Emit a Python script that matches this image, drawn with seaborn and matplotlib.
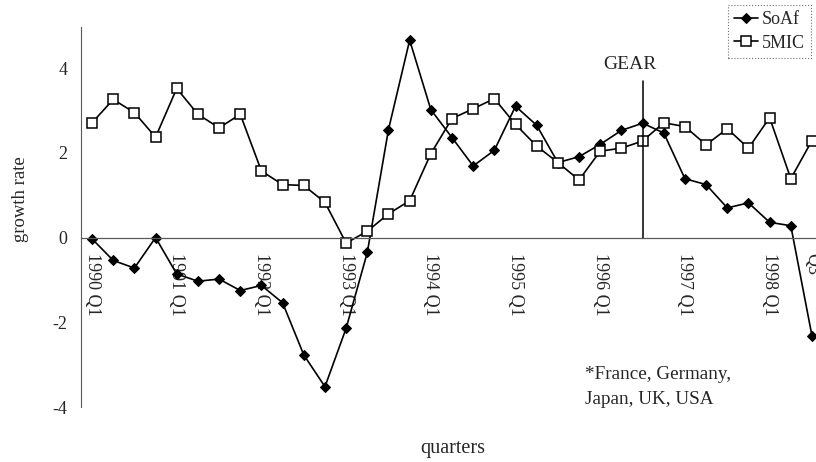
import numpy as np
import pandas as pd
import matplotlib
matplotlib.use("Agg")
import matplotlib.pyplot as plt
import seaborn as sns
from matplotlib.ticker import FixedLocator

# trimestres 1990 Q1 .. 1998 Q3
quarters = [f"{y} Q{q}" for y in range(1990, 1999) for q in range(1, 5)][:35]

soaf = [-0.03, -0.54, -0.72, 0.00, -0.86, -1.03, -0.98, -1.25,
        -1.13, -1.54, -2.77, -3.52, -2.14, -0.35, 2.55, 4.66,
        3.02, 2.36, 1.69, 2.06, 3.10, 2.65, 1.77, 1.91,
        2.20, 2.53, 2.70, 2.47, 1.39, 1.25, 0.70, 0.82,
        0.36, 0.28, -2.32]

mic5 = [2.71, 3.26, 2.95, 2.37, 3.52, 2.91, 2.59, 2.91,
        1.57, 1.25, 1.23, 0.83, -0.13, 0.15, 0.56, 0.87,
        1.98, 2.81, 3.04, 3.28, 2.67, 2.16, 1.77, 1.36,
        2.04, 2.11, 2.28, 2.71, 2.62, 2.19, 2.57, 2.11,
        2.83, 1.39, 2.29]

tick_pos = [0, 4, 8, 12, 16, 20, 24, 28, 32, 34]
tick_labels = ["1990 Q1", "1991 Q1", "1992 Q1", "1993 Q1", "1994 Q1",
               "1995 Q1", "1996 Q1", "1997 Q1", "1998 Q1", "Q3"]
gear_quarter = "1996 Q3"

base = pd.DataFrame({"quarter": quarters, "SoAf": soaf, "5MIC": mic5})
base["idx"] = np.arange(len(base))

sns.set_style("white")
plt.rcParams["font.family"] = ["Liberation Serif", "DejaVu Serif"]
plt.rcParams["font.size"] = 13
plt.rcParams["axes.unicode_minus"] = False

fig = plt.figure(figsize=(8.16, 4.62), dpi=100)
ax = fig.add_axes([0.0993, 0.119, 0.9007, 0.8225])

sns.lineplot(data=base, x="idx", y="SoAf", ax=ax, color="black", lw=1.2,
             marker="D", markersize=5, markerfacecolor="black",
             markeredgecolor="black", label="SoAf")
sns.lineplot(data=base, x="idx", y="5MIC", ax=ax, color="black", lw=1.2,
             marker="s", markersize=7, markerfacecolor="white",
             markeredgecolor="black", markeredgewidth=1.1, label="5MIC")

ax.set_xlim(-0.52, 34.19)
ax.set_ylim(-4, 4.97)
ax.set_yticks([-4, -2, 0, 2, 4])
ax.tick_params(axis="y", length=3, width=0.6, color="0.6", pad=7, labelsize=13)

# eixo x no zero, marcas entre categorias
ax.spines["bottom"].set_position(("data", 0))
ax.spines["top"].set_visible(False)
ax.spines["right"].set_visible(False)
ax.spines["left"].set_color("0.35")
ax.spines["left"].set_linewidth(0.8)
ax.spines["bottom"].set_color("0.35")
ax.spines["bottom"].set_linewidth(0.9)

ax.set_xticks(tick_pos)
ax.set_xticklabels(tick_labels, rotation=270, va="top", ha="center")
ax.xaxis.set_minor_locator(FixedLocator(np.arange(-0.5, 35.5, 1)))
ax.tick_params(axis="x", which="major", length=0, pad=11, labelsize=13)
ax.tick_params(axis="x", which="minor", length=3, width=0.8, color="0.35",
               direction="out")

ax.set_xlabel("")
ax.set_ylabel("")
fig.text(0.555, 0.008, "quarters", ha="center", va="bottom", fontsize=14.5)
fig.text(0.025, 0.57, "growth rate", ha="center", va="center",
         rotation=90, fontsize=13.5)

# linha GEAR
g = quarters.index(gear_quarter)
ax.plot([g, g], [0, 3.7], color="black", lw=1.1)
ax.text(g - 0.6, 4.08, "GEAR", ha="center", va="center", fontsize=14)

ax.text(23.28, -3.53, "*France, Germany,\nJapan, UK, USA", ha="left",
        va="center", fontsize=13.8, linespacing=1.65)

leg = ax.legend(loc="upper left", bbox_to_anchor=(0.892, 0.989),
                bbox_transform=fig.transFigure, frameon=True, fancybox=False,
                handlelength=1.3, handletextpad=0.25, borderpad=0.35,
                labelspacing=0.35, borderaxespad=0, fontsize=13)
leg.get_frame().set_edgecolor("0.3")
leg.get_frame().set_linestyle(":")
leg.get_frame().set_linewidth(0.8)

fig.savefig("out.png", dpi=100)
